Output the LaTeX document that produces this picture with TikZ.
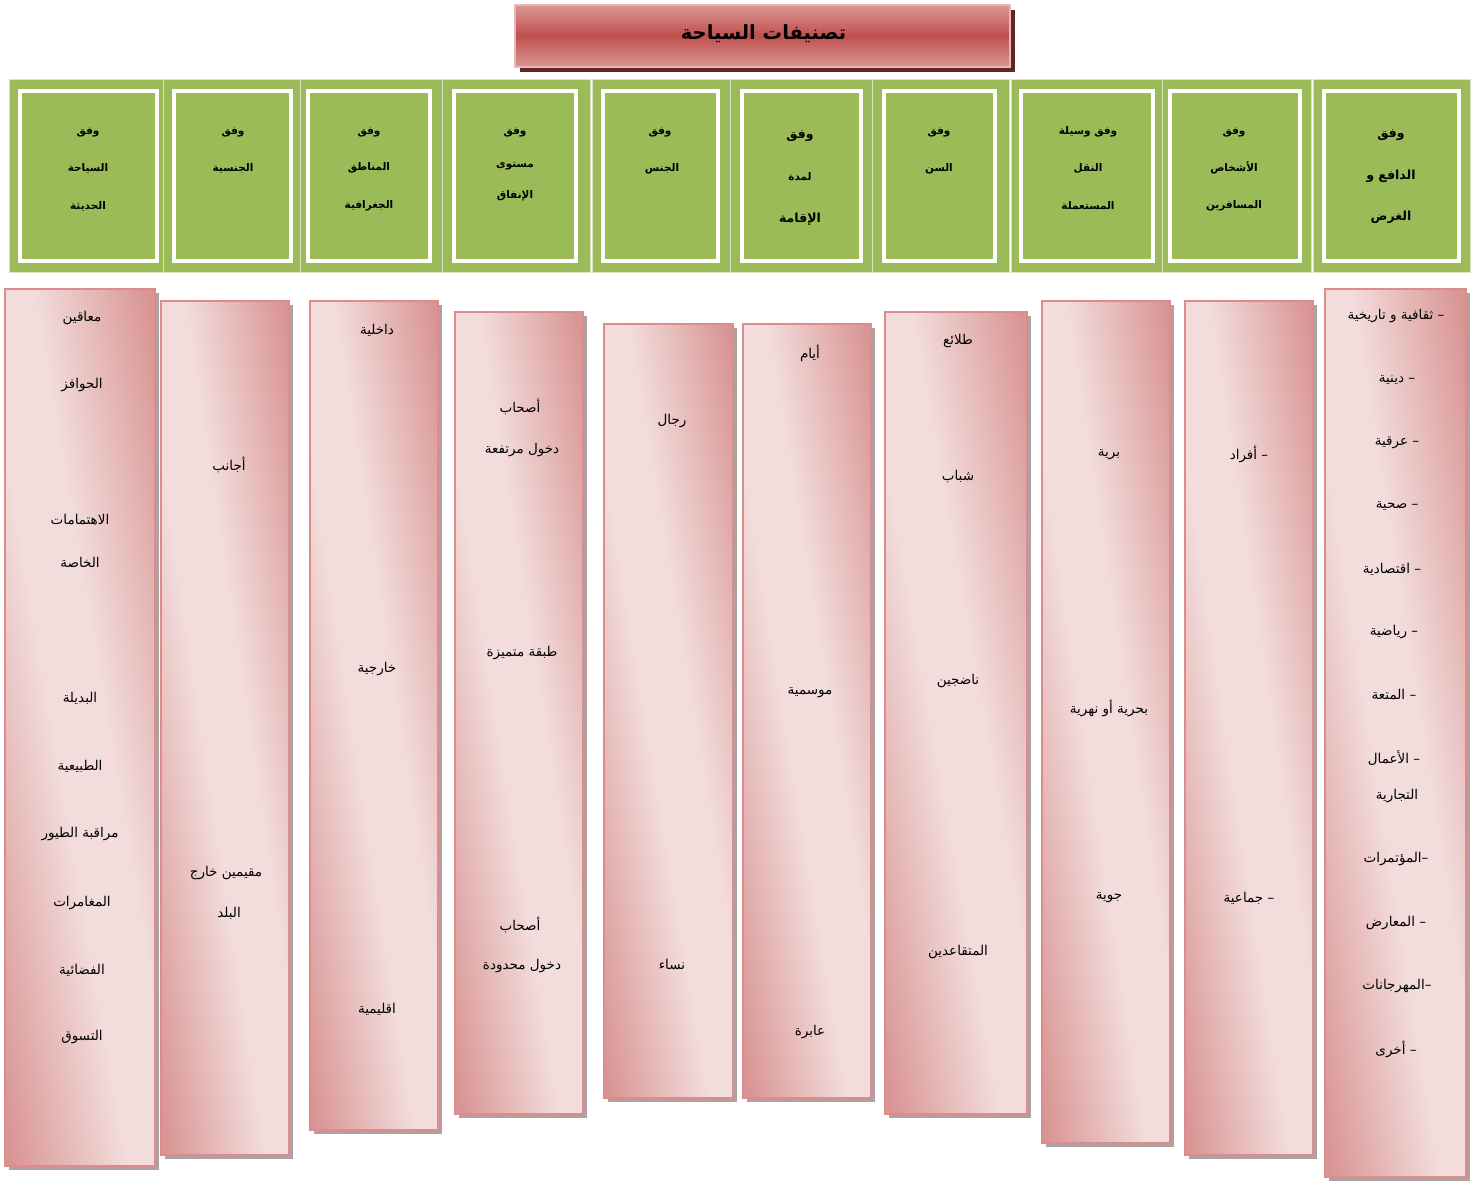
\documentclass[tikz,border=0pt]{standalone}
\usepackage{fontspec}
\usetikzlibrary{shadows}
\newfontfamily\arabicfont[Script=Arabic]{DejaVu Sans}
\TeXXeTstate=1
\newcommand\artxt[1]{\arabicfont\beginR #1\endR}
\definecolor{hgreen}{RGB}{155,187,89}
\definecolor{hsep}{RGB}{215,228,189}
\definecolor{pborder}{RGB}{220,140,140}
\definecolor{pshadow}{RGB}{176,160,160}
\definecolor{tmid}{RGB}{192,80,77}
\definecolor{tedge}{RGB}{219,150,149}
\definecolor{tborder}{RGB}{230,185,184}
\definecolor{tshadow}{RGB}{99,36,35}
\pgfdeclarefunctionalshading{pinkdiag}{\pgfpoint{0bp}{0bp}}{\pgfpoint{100bp}{100bp}}{}{
  add 100 sub 50 div abs 0.18 sub 0.77 div
  dup 0 lt {pop 0} if
  dup 1 gt {pop 1} if
  dup -0.098 mul 0.949 add
  exch dup -0.283 mul 0.867 add
  exch -0.283 mul 0.863 add
}
\tikzset{
  pinkbox/.style={rectangle, inner sep=0pt, outer sep=0pt, shading=pinkdiag, draw=pborder, line width=1.6pt,
    drop shadow={shadow xshift=4pt, shadow yshift=-4pt, fill=pshadow, opacity=1}},
  hcell/.style={rectangle, inner sep=0pt, outer sep=0pt, fill=hgreen, draw=hsep, line width=1pt},
  hinner/.style={rectangle, inner sep=0pt, outer sep=0pt, fill=hgreen, draw=white, line width=4pt},
  titlebox/.style={rectangle, inner sep=0pt, outer sep=0pt, top color=tedge, bottom color=tedge, middle color=tmid, draw=tborder, line width=1.2pt,
    drop shadow={shadow xshift=5pt, shadow yshift=-5pt, fill=tshadow, opacity=1}},
  itm/.style={inner sep=0pt, font=\fontsize{13.5}{15}\selectfont, text=black},
  hdr/.style={inner sep=0pt, font=\fontsize{10.5}{12}\selectfont\bfseries, text=black},
  hdrbig/.style={inner sep=0pt, font=\fontsize{12.5}{14}\selectfont\bfseries, text=black},
  ttl/.style={inner sep=0pt, font=\fontsize{19.5}{22}\selectfont\bfseries, text=black}
}
\begin{document}
\begin{tikzpicture}[x=1pt,y=-1pt]
\useasboundingbox (0,0) rectangle (1478,1184);
\fill[white] (0,0) rectangle (1478,1184);
% title
\node[titlebox, minimum width=495pt, minimum height=62pt] (title) at (762.5,36) {};
\node[ttl] (titletxt) at (763.5,34) {\artxt{تصنيفات السياحة}};
% header cells
\node[hcell, minimum width=154pt, minimum height=193pt] (h1o) at (86,175.5) {};
\node[hcell, minimum width=137pt, minimum height=193pt] (h2o) at (231.5,175.5) {};
\node[hcell, minimum width=142pt, minimum height=193pt] (h3o) at (371,175.5) {};
\node[hcell, minimum width=148pt, minimum height=193pt] (h4o) at (516,175.5) {};
\node[hcell, minimum width=138pt, minimum height=193pt] (h5o) at (661,175.5) {};
\node[hcell, minimum width=142pt, minimum height=193pt] (h6o) at (801,175.5) {};
\node[hcell, minimum width=137pt, minimum height=193pt] (h7o) at (940.5,175.5) {};
\node[hcell, minimum width=151pt, minimum height=193pt] (h8o) at (1086.5,175.5) {};
\node[hcell, minimum width=149pt, minimum height=193pt] (h9o) at (1236.5,175.5) {};
\node[hcell, minimum width=157pt, minimum height=193pt] (h10o) at (1391.5,175.5) {};
\node[hinner, minimum width=137pt, minimum height=170pt] (h1) at (88.5,176) {};
\node[hinner, minimum width=117pt, minimum height=170pt] (h2) at (232.5,176) {};
\node[hinner, minimum width=122pt, minimum height=170pt] (h3) at (369,176) {};
\node[hinner, minimum width=122pt, minimum height=170pt] (h4) at (515,176) {};
\node[hinner, minimum width=115pt, minimum height=170pt] (h5) at (660.5,176) {};
\node[hinner, minimum width=119pt, minimum height=170pt] (h6) at (801.5,176) {};
\node[hinner, minimum width=111pt, minimum height=170pt] (h7) at (939.5,176) {};
\node[hinner, minimum width=132pt, minimum height=170pt] (h8) at (1087,176) {};
\node[hinner, minimum width=130pt, minimum height=170pt] (h9) at (1235,176) {};
\node[hinner, minimum width=135pt, minimum height=170pt] (h10) at (1391.5,176) {};
% header texts
\node[hdr] (h1a) at (88,132) {\artxt{وفق}};
\node[hdr] (h1b) at (88,168) {\artxt{السياحة}};
\node[hdr] (h1c) at (88,206) {\artxt{الحديثة}};
\node[hdr] (h2a) at (233,132) {\artxt{وفق}};
\node[hdr] (h2b) at (233,168) {\artxt{الجنسية}};
\node[hdr] (h3a) at (369,132) {\artxt{وفق}};
\node[hdr] (h3b) at (369,168) {\artxt{المناطق}};
\node[hdr] (h3c) at (369,206) {\artxt{الجغرافية}};
\node[hdr] (h4a) at (515,132) {\artxt{وفق}};
\node[hdr] (h4b) at (515,166) {\artxt{مستوى}};
\node[hdr] (h4c) at (515,196) {\artxt{الإنفاق}};
\node[hdr] (h5a) at (660,132) {\artxt{وفق}};
\node[hdr] (h5b) at (662,169) {\artxt{الجنس}};
\node[hdrbig] (h6a) at (800,136) {\artxt{وفق}};
\node[hdr] (h6b) at (800,177) {\artxt{لمدة}};
\node[hdrbig] (h6c) at (800,219) {\artxt{الإقامة}};
\node[hdr] (h7a) at (939,132) {\artxt{وفق}};
\node[hdr] (h7b) at (939,169) {\artxt{السن}};
\node[hdr] (h8a) at (1088,132) {\artxt{وفق وسيلة}};
\node[hdr] (h8b) at (1088,168) {\artxt{النقل}};
\node[hdr] (h8c) at (1088,206) {\artxt{المستعملة}};
\node[hdr] (h9a) at (1234,132) {\artxt{وفق}};
\node[hdr] (h9b) at (1234,168) {\artxt{الأشخاص}};
\node[hdr] (h9c) at (1234,206) {\artxt{المسافرين}};
\node[hdrbig] (h10a) at (1391,135) {\artxt{وفق}};
\node[hdrbig] (h10b) at (1391,176) {\artxt{الدافع و}};
\node[hdrbig] (h10c) at (1391,217) {\artxt{الغرض}};
% pink columns
\node[pinkbox, minimum width=150pt, minimum height=877pt] (c1) at (80,727.5) {};
\node[pinkbox, minimum width=128pt, minimum height=854pt] (c2) at (225,728) {};
\node[pinkbox, minimum width=128pt, minimum height=829pt] (c3) at (374,715.5) {};
\node[pinkbox, minimum width=128pt, minimum height=802pt] (c4) at (519,713) {};
\node[pinkbox, minimum width=129pt, minimum height=774pt] (c5) at (668.5,711) {};
\node[pinkbox, minimum width=128pt, minimum height=774pt] (c6) at (807,711) {};
\node[pinkbox, minimum width=142pt, minimum height=802pt] (c7) at (956,713) {};
\node[pinkbox, minimum width=128pt, minimum height=842pt] (c8) at (1106,722) {};
\node[pinkbox, minimum width=128pt, minimum height=854pt] (c9) at (1249,728) {};
\node[pinkbox, minimum width=141pt, minimum height=888pt] (c10) at (1395.5,733) {};
% column 1
\node[itm] (c1a) at (82,318) {\artxt{معاقين}};
\node[itm] (c1b) at (82,385) {\artxt{الحوافز}};
\node[itm] (c1c) at (80,520) {\artxt{الاهتمامات}};
\node[itm] (c1d) at (80,562) {\artxt{الخاصة}};
\node[itm] (c1e) at (80,698) {\artxt{البديلة}};
\node[itm] (c1f) at (80,766) {\artxt{الطبيعية}};
\node[itm] (c1g) at (80,834) {\artxt{مراقبة الطيور}};
\node[itm] (c1h) at (82,903) {\artxt{المغامرات}};
\node[itm] (c1i) at (82,970) {\artxt{الفضائية}};
\node[itm] (c1j) at (82,1037) {\artxt{التسوق}};
% column 2
\node[itm] (c2a) at (229,465) {\artxt{أجانب}};
\node[itm] (c2b) at (226,873) {\artxt{مقيمين خارج}};
\node[itm] (c2c) at (229,913) {\artxt{البلد}};
% column 3
\node[itm] (c3a) at (377,330) {\artxt{داخلية}};
\node[itm] (c3b) at (377,669) {\artxt{خارجية}};
\node[itm] (c3c) at (377,1009) {\artxt{اقليمية}};
% column 4
\node[itm] (c4a) at (520,407) {\artxt{أصحاب}};
\node[itm] (c4b) at (522,450) {\artxt{دخول مرتفعة}};
\node[itm] (c4c) at (522,653) {\artxt{طبقة متميزة}};
\node[itm] (c4d) at (520,925) {\artxt{أصحاب}};
\node[itm] (c4e) at (522,966) {\artxt{دخول محدودة}};
% column 5
\node[itm] (c5a) at (672,421) {\artxt{رجال}};
\node[itm] (c5b) at (672,964) {\artxt{نساء}};
% column 6
\node[itm] (c6a) at (810,353) {\artxt{أيام}};
\node[itm] (c6b) at (810,693) {\artxt{موسمية}};
\node[itm] (c6c) at (810,1032) {\artxt{عابرة}};
% column 7
\node[itm] (c7a) at (958,341) {\artxt{طلائع}};
\node[itm] (c7b) at (958,477) {\artxt{شباب}};
\node[itm] (c7c) at (958,681) {\artxt{ناضجين}};
\node[itm] (c7d) at (958,952) {\artxt{المتقاعدين}};
% column 8
\node[itm] (c8a) at (1109,455) {\artxt{برية}};
\node[itm] (c8b) at (1109,708) {\artxt{بحرية أو نهرية}};
\node[itm] (c8c) at (1109,898) {\artxt{جوية}};
% column 9
\node[itm] (c9a) at (1249,454) {\artxt{– أفراد}};
\node[itm] (c9b) at (1249,898) {\artxt{– جماعية}};
% column 10
\node[itm] (c10a) at (1396,316) {\artxt{– ثقافية و تاريخية}};
\node[itm] (c10b) at (1397,380) {\artxt{– دينية}};
\node[itm] (c10c) at (1397,443) {\artxt{– عرقية}};
\node[itm] (c10d) at (1397,506) {\artxt{– صحية}};
\node[itm] (c10e) at (1392,569) {\artxt{– اقتصادية}};
\node[itm] (c10f) at (1394,632) {\artxt{– رياضية}};
\node[itm] (c10g) at (1394,695) {\artxt{– المتعة}};
\node[itm] (c10h) at (1394,758) {\artxt{– الأعمال}};
\node[itm] (c10i) at (1397,796) {\artxt{التجارية}};
\node[itm] (c10j) at (1396,859) {\artxt{\mbox{–}المؤتمرات}};
\node[itm] (c10k) at (1396,923) {\artxt{– المعارض}};
\node[itm] (c10l) at (1397,986) {\artxt{\mbox{–}المهرجانات}};
\node[itm] (c10m) at (1396,1049) {\artxt{– أخرى}};
\end{tikzpicture}
\end{document}
